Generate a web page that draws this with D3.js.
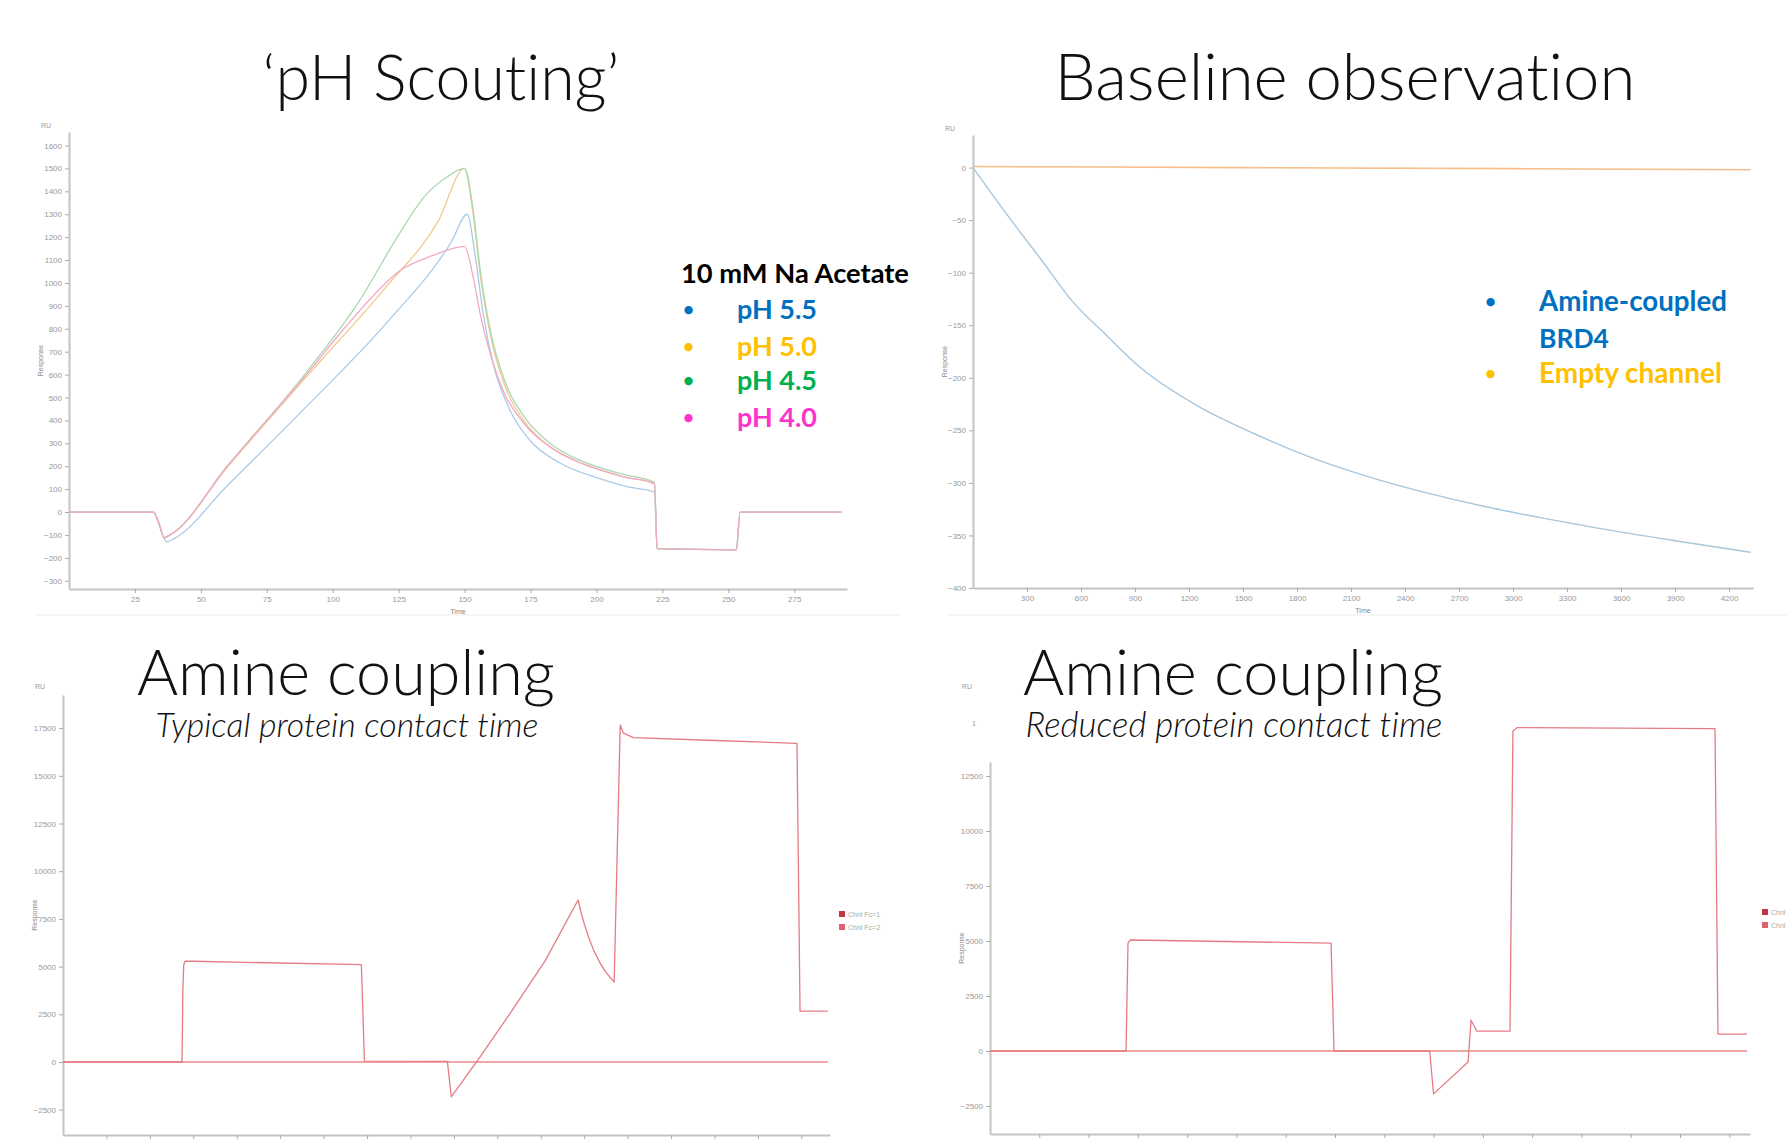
<!DOCTYPE html>
<html><head><meta charset="utf-8">
<script src="https://cdn.jsdelivr.net/npm/d3@7"></script>
<style>body{margin:0;background:#fff}svg{display:block}text{font-variant-ligatures:none;font-feature-settings:"liga" 0}</style>
</head><body>
<svg id="chart" width="1787" height="1142"></svg>
<script>
// ---------------- DATA ----------------
// Panel 1: pH scouting (time s, response RU)
const phXTicks = [25,50,75,100,125,150,175,200,225,250,275];
const phYTicks = [1600,1500,1400,1300,1200,1100,1000,900,800,700,600,500,400,300,200,100,0,-100,-200,-300];
const phLegend = ["pH 5.5","pH 5.0","pH 4.5","pH 4.0"];
const ph55 = [[0,0],[32,0],[34,-50],[37,-130],[40,-115],[60,115],[90,460],[120,820],[145,1180],[151,1300],[154,1120],[157,870],[161,640],[167,450],[175,310],[186,215],[200,150],[212,110],[222,87],[223,-160],[253,-165],[254.5,0],[293,0]];
const ph50 = [[0,0],[32,0],[34,-45],[36,-112],[39,-95],[60,195],[90,590],[120,980],[140,1270],[150,1500],[153,1320],[156,1030],[160,760],[165,560],[173,390],[183,280],[195,210],[210,155],[222,122],[223,-160],[253,-165],[254.5,0],[293,0]];
const ph45 = [[0,0],[32,0],[34,-45],[36,-112],[39,-95],[60,200],[90,610],[110,920],[125,1210],[135,1380],[143,1460],[150,1500],[153,1340],[156,1050],[160,780],[165,580],[173,410],[183,295],[195,220],[210,165],[222,130],[223,-160],[253,-165],[254.5,0],[293,0]];
const ph40 = [[0,0],[32,0],[34,-45],[36,-112],[39,-95],[60,200],[90,600],[105,810],[115,940],[125,1050],[138,1120],[150,1160],[153,1040],[156,860],[160,680],[165,520],[173,380],[183,280],[195,210],[210,155],[222,125],[223,-160],[253,-165],[254.5,0],[293,0]];

// Panel 2: baseline observation
const baseXTicks = [300,600,900,1200,1500,1800,2100,2400,2700,3000,3300,3600,3900,4200];
const baseYTicks = [0,-50,-100,-150,-200,-250,-300,-350,-400];
const baseLegend = ["Amine-coupled","BRD4","Empty channel"];
const baseBRD4 = [[0,0],[190,-45],[372,-86],[556,-128],[744,-160],[928,-190],[1240,-226],[1560,-253],[1880,-276],[2194,-294],[2510,-309],[2830,-322],[3150,-333],[3470,-343],[3900,-355],[4320,-366]];
const baseEmpty = [[0,1],[1500,0],[3000,-1],[4320,-2]];

// Panel 3: amine coupling, typical contact time
const typXTicks = [100,200,300,400,500,600,700,800,900,1000,1100,1200,1300,1400,1500,1600,1700];
const typYTicks = [-2500,0,2500,5000,7500,10000,12500,15000,17500];
const typActive = [[0,0],[274,0],[276,3800],[278,5100],[281,5280],[300,5280],[687,5100],[694,50],[885,30],[894,-1830],[960,250],[1034,2700],[1110,5300],[1186,8490],[1192,7900],[1200,7250],[1210,6550],[1222,5850],[1235,5250],[1250,4700],[1269,4190],[1283,17660],[1290,17250],[1313,17000],[1500,16850],[1690,16700],[1697,2670],[1761,2670]];
const typRef = [[0,0],[1761,0]];

// Panel 4: amine coupling, reduced contact time
const redXTicks = [100,200,300,400,500,600,700,800,900,1000,1100,1200,1300,1400,1500];
const redYTicks = [-2500,0,2500,5000,7500,10000,12500];
const redActive = [[0,0],[276,0],[280,4900],[285,5045],[692,4900],[698,0],[892,0],[900,-1950],[970,-500],[976,1400],[988,900],[1055,900],[1061,14545],[1070,14700],[1471,14650],[1477,770],[1536,770]];
const redRef = [[0,0],[1536,0]];

const fcLegend = ["Chnl Fc=1","Chnl Fc=2"];

// ---------------- DRAW ----------------
const svg = d3.select("#chart");
const TICK_FONT = "Liberation Sans, Arial, sans-serif";
const fmt = d3.format("d");

function panel(o){
  const g = svg.append("g");
  const x = d3.scaleLinear().domain(o.xDomain).range(o.xRange);
  const y = d3.scaleLinear().domain(o.yDomain).range(o.yRange);
  const ax = g.append("g").attr("transform",`translate(0,${o.yRange[0]})`)
    .call(d3.axisBottom(x).tickValues(o.xTicks).tickFormat(fmt).tickSize(4).tickSizeOuter(0).tickPadding(3));
  const ay = g.append("g").attr("transform",`translate(${o.xRange[0]},0)`)
    .call(d3.axisLeft(y).tickValues(o.yTicks).tickFormat(fmt).tickSize(4).tickSizeOuter(0).tickPadding(3));
  [ax,ay].forEach(a=>{
    a.select(".domain").attr("stroke","#c4c4c4").attr("stroke-width",2);
    a.selectAll(".tick line").attr("stroke","#aaa");
    a.selectAll(".tick text").attr("fill","#999").attr("font-size",8).attr("font-family",TICK_FONT);
  });
  const line = d3.line().x(d=>x(d[0])).y(d=>y(d[1])).curve(o.curve||d3.curveLinear);
  o.series.forEach(s=>{
    g.append("path").datum(s.data).attr("d",line).attr("fill","none")
      .attr("stroke",s.color).attr("stroke-width",s.w||1.3).attr("stroke-linejoin","round");
  });
  g.append("text").attr("x",o.xRange[0]-28).attr("y",o.ruY||o.yRange[1]-4).text("RU")
    .attr("font-size",7).attr("fill","#999").attr("font-family",TICK_FONT);
  g.append("text").attr("transform",`translate(${o.xRange[0]-26},${(o.yRange[0]+o.yRange[1])/2}) rotate(-90)`)
    .attr("text-anchor","middle").text("Response").attr("font-size",7).attr("fill","#888").attr("font-family",TICK_FONT);
  g.append("text").attr("x",(o.xRange[0]+o.xRange[1])/2).attr("y",o.yRange[0]+25).text("Time")
    .attr("text-anchor","middle").attr("font-size",7).attr("fill","#888").attr("font-family",TICK_FONT);
  return {g,x,y};
}

panel({xDomain:[0,295],xRange:[69,847],yDomain:[-336,1659],yRange:[589,132],
  xTicks:phXTicks,yTicks:phYTicks,curve:d3.curveMonotoneX,
  series:[{data:ph55,color:"#a9cbe8"},{data:ph50,color:"#f3c98f"},{data:ph45,color:"#a9d9b0"},{data:ph40,color:"#f2a9c8"}]});

panel({xDomain:[0,4333],xRange:[973,1753],yDomain:[-400,31],yRange:[588,135],
  xTicks:baseXTicks,yTicks:baseYTicks,curve:d3.curveMonotoneX,
  series:[{data:baseEmpty,color:"#f6bf8a",w:1.6},{data:baseBRD4,color:"#a8c6dc",w:1.4}]});

panel({xDomain:[0,1766],xRange:[63,830],yDomain:[-3826,19235],yRange:[1135,695],
  xTicks:typXTicks,yTicks:typYTicks,ruY:689,
  series:[{data:typRef,color:"#e88a8a"},{data:typActive,color:"#e57b85"}]});

const p4 = panel({xDomain:[0,1542],xRange:[990,1750],yDomain:[-3773,13136],yRange:[1134,762],
  xTicks:redXTicks,yTicks:redYTicks,ruY:689,
  series:[{data:redRef,color:"#e88a8a"},{data:redActive,color:"#e57b85"}]});
p4.g.append("text").attr("x",972).attr("y",726).text("1").attr("font-size",7).attr("fill","#999").attr("font-family",TICK_FONT);

// faint screenshot frame lines
[[35,900,615],[948,1787,615]].forEach(l=>svg.append("line").attr("x1",l[0]).attr("x2",l[1]).attr("y1",l[2]).attr("y2",l[2]).attr("stroke","#eee"));

// small Fc legends
function fcLeg(x0,y0){
  fcLegend.forEach((t,i)=>{
    svg.append("rect").attr("x",x0).attr("y",y0+i*13).attr("width",6).attr("height",6).attr("fill",i?"#e0606e":"#c8343c");
    svg.append("text").attr("x",x0+9).attr("y",y0+i*13+6).text(t).attr("font-size",7).attr("fill","#aaa").attr("font-family",TICK_FONT);
  });
}
fcLeg(839,911); fcLeg(1762,909);

// titles
function fit(sel,w){const L=sel.node().getComputedTextLength();const fs=parseFloat(sel.attr("font-size"));sel.attr("font-size",fs*w/L);return sel;}
const TF = "Lato, 'Open Sans', sans-serif";
function title(txt,cx,by,w,fs,italic){
  const t = svg.append("text").attr("x",cx).attr("y",by).attr("text-anchor","middle").text(txt)
    .attr("font-family",TF).attr("font-weight",300).attr("font-size",fs).attr("fill","#111");
  if(italic) t.attr("font-style","italic");
  fit(t,w);
}
title("\u2018pH Scouting\u2019",441,100,357,62);
title("Baseline observation",1345,100,581,62);
title("Amine coupling",346,695,418,58);
title("Amine coupling",1233,695,420,58);
title("Typical protein contact time",347,737,383,30,true);
title("Reduced protein contact time",1234,737,417,30,true);

// annotation legends
const LF = "Lato, 'Open Sans', sans-serif";
fit(svg.append("text").attr("x",681).attr("y",283).text("10 mM Na Acetate").attr("font-family",LF)
  .attr("font-weight",700).attr("font-size",26).attr("fill","#000"),228);
const phColors = ["#0070C0","#FFC000","#00B050","#FF33CC"];
const phBase = [319,356,390,427];
phLegend.forEach((t,i)=>{
  svg.append("text").attr("x",683).attr("y",phBase[i]-3).text("\u2022").attr("font-family",LF).attr("font-weight",700).attr("font-size",19).attr("fill",phColors[i]);
  fit(svg.append("text").attr("x",737).attr("y",phBase[i]).text(t).attr("font-family",LF).attr("font-weight",700).attr("font-size",26).attr("fill",phColors[i]),80);
});
const bColors = ["#0070C0","#0070C0","#FFC000"];
const bBase = [311,348,383];
const bWidth = [188,70,183];
baseLegend.forEach((t,i)=>{
  if(i!==1) svg.append("text").attr("x",1485).attr("y",bBase[i]-3).text("\u2022").attr("font-family",LF).attr("font-weight",700).attr("font-size",19).attr("fill",bColors[i]);
  fit(svg.append("text").attr("x",1539).attr("y",bBase[i]).text(t).attr("font-family",LF).attr("font-weight",700).attr("font-size",26).attr("fill",bColors[i]),bWidth[i]);
});
</script>
</body></html>
